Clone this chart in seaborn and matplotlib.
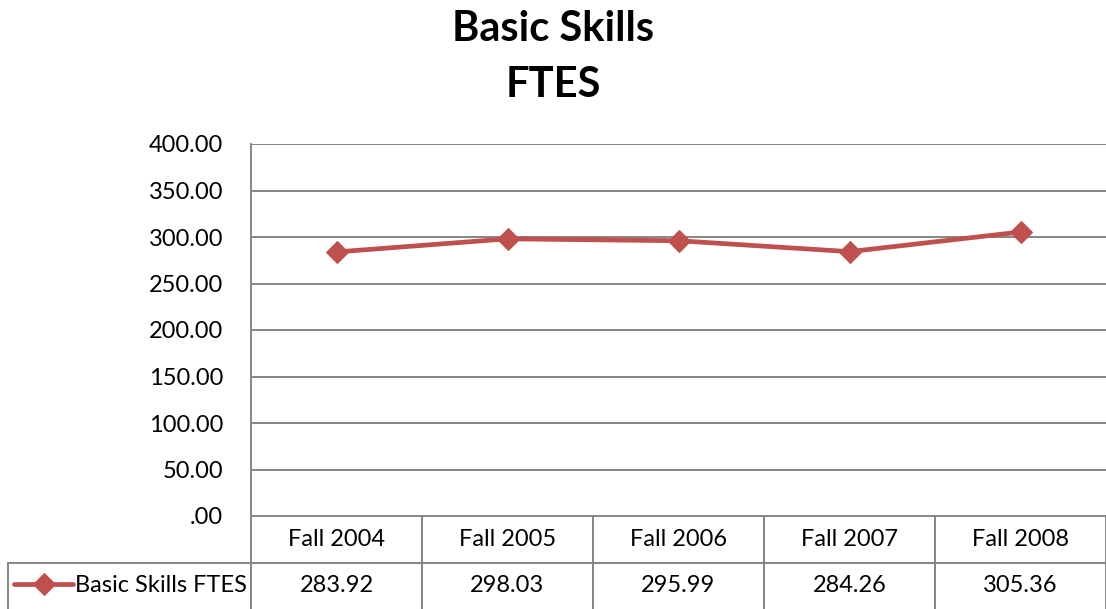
import pandas as pd
import matplotlib
matplotlib.use("Agg")
import matplotlib.pyplot as plt
import seaborn as sns
from matplotlib.ticker import FuncFormatter, MultipleLocator

# Dati
categorie = ["Fall 2004", "Fall 2005", "Fall 2006", "Fall 2007", "Fall 2008"]
valori = [283.92, 298.03, 295.99, 284.26, 305.36]
serie = "Basic Skills FTES"
titolo = "Basic Skills\nFTES"

data = pd.DataFrame({"Periodo": categorie, "FTES": valori})

# Impostazioni grafiche
sns.set_style("white")
plt.rcParams['font.family'] = ['Lato', 'DejaVu Sans']
plt.rcParams['text.color'] = 'black'
plt.rcParams['ytick.color'] = 'black'
plt.rcParams['xtick.color'] = 'black'

rosso = "#C0504D"
grigio = "#868686"

fig = plt.figure(figsize=(11.06, 6.09), dpi=100)
ax = fig.add_axes([251 / 1106, 1 - 516 / 609, 855 / 1106, 372 / 609])

sns.lineplot(data=data, x="Periodo", y="FTES", ax=ax, color=rosso, linewidth=3.4,
             marker="D", markersize=11, markeredgecolor=rosso, label=serie, sort=False)

ax.set_xlim(-0.5, len(categorie) - 0.5)
ax.set_ylim(0, 400)
ax.yaxis.set_major_locator(MultipleLocator(50))
ax.yaxis.set_major_formatter(FuncFormatter(lambda v, p: ".00" if v == 0 else f"{v:.2f}"))
ax.grid(axis="y", color=grigio, linewidth=1.4)
ax.set_axisbelow(True)
ax.tick_params(axis="y", length=0, pad=20, labelsize=17)
ax.tick_params(axis="x", length=0, labelbottom=False)
ax.set_xlabel("")
ax.set_ylabel("")
for s in ["top", "right", "bottom"]:
    ax.spines[s].set_visible(False)
ax.spines["left"].set_color(grigio)
ax.spines["left"].set_linewidth(1.4)

fig.suptitle(titolo, fontsize=30, fontweight="bold", y=0.984, linespacing=1.6, color="black")

# Tabella dati sotto il grafico
testo = [[""] + categorie, [""] + [f"{v:.2f}" for v in valori]]
larg = [243] + [171] * len(categorie)
tot = sum(larg)
tab = ax.table(cellText=testo, colWidths=[w / tot for w in larg], cellLoc="center",
               bbox=[-243 / 855, -93 / 372, tot / 855, 93 / 372])
tab.auto_set_font_size(False)
tab.set_fontsize(17)
for (r, c), cell in tab.get_celld().items():
    cell.set_edgecolor(grigio)
    cell.set_linewidth(1.4)
    cell.get_text().set_color("black")
    if r == 0 and c == 0:
        cell.visible_edges = "open"
    elif r == 1:
        cell.visible_edges = "LTR"

# Legenda nella cella di riga
leg = ax.legend(loc="center", bbox_to_anchor=(-0.141, -0.188), frameon=False, fontsize=17,
                handlelength=2.5, handletextpad=0.05, borderpad=0, borderaxespad=0)
for t in leg.get_texts():
    t.set_color("black")

plt.savefig("out.png", dpi=100)
